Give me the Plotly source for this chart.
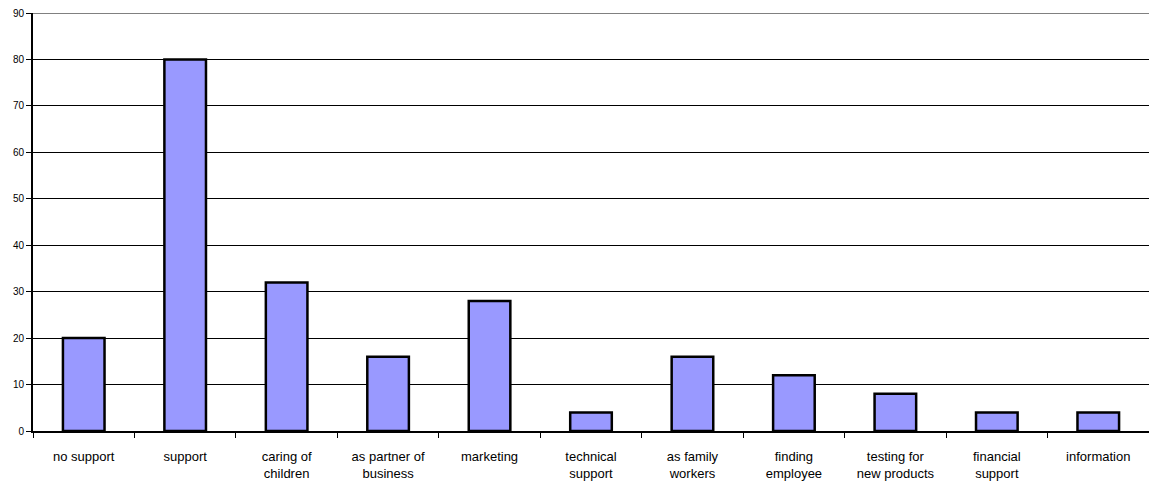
import plotly.graph_objects as go

categories = ["no support", "support", "caring of<br>children", "as partner of<br>business",
              "marketing", "technical<br>support", "as family<br>workers", "finding<br>employee",
              "testing for<br>new products", "financial<br>support", "information"]
values = [20, 80, 32, 16, 28, 4, 16, 12, 8, 4, 4]

fig = go.Figure(go.Bar(
    x=categories, y=values, width=0.41,
    marker=dict(color="#9999FF", line=dict(color="black", width=2.5)),
))
fig.update_layout(
    width=1149, height=486,
    margin=dict(l=33, r=0, t=13, b=55, autoexpand=False),
    paper_bgcolor="white", plot_bgcolor="white",
    showlegend=False,
    font=dict(family="Arial, Liberation Sans, sans-serif", color="black"),
)
fig.update_xaxes(
    showgrid=False, showline=True, linecolor="black", linewidth=2,
    ticks="outside", tickson="boundaries", ticklen=5, tickcolor="black", tickwidth=1,
    tickfont=dict(size=13), tickangle=0, ticklabelstandoff=12, automargin=False,
)
fig.update_yaxes(
    range=[0, 90], dtick=10, showgrid=True, gridcolor="black", gridwidth=1,
    showline=True, linecolor="black", linewidth=2, zeroline=False,
    ticks="outside", ticklen=5, tickcolor="black", tickfont=dict(size=10), automargin=False,
)
fig.add_shape(type="line", xref="paper", yref="y", x0=0, x1=1, y0=90, y1=90,
              line=dict(color="#808080", width=2), layer="above")
fig.write_html("out.html", config={"displayModeBar": False},
               post_script="document.body.style.margin='0';document.body.style.overflow='hidden';")
